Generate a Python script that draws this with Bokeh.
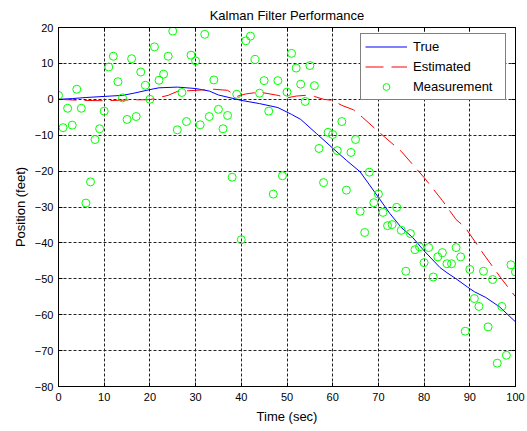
from bokeh.plotting import figure
from bokeh.models import Range1d, LinearAxis, FixedTicker, Legend, LegendItem
from bokeh.embed import file_html
from bokeh.resources import INLINE

# ---- data ----
time_s = list(range(101))
measurement = [
    1.1, -7.9, -2.5, -7.2, 2.8, -2.5, -28.9, -23.0, -11.2, -8.2,
    -3.3, 9.0, 12.0, 4.9, 0.4, -5.6, 11.3, -4.8, 7.6, 3.9,
    0.0, 14.6, 5.3, 7.0, 12.0, 19.0, -8.5, 1.9, -6.2, 12.3,
    10.7, -7.1, 18.1, -4.8, 5.4, -2.8, -8.2, -4.5, -21.7, 1.4,
    -39.1, 16.3, 17.6, 11.1, 1.7, 5.2, -3.3, -26.4, 5.2, -21.3,
    2.0, 12.8, 8.7, 4.2, -0.6, 9.4, 3.8, -13.7, -23.2, -9.2,
    -9.8, -14.3, -6.2, -25.3, -14.8, -11.2, -31.2, -37.1, -20.3, -28.8,
    -26.4, -31.5, -35.2, -34.9, -30.1, -36.5, -47.9, -37.4, -41.9, -41.1,
    -45.5, -41.3, -49.5, -43.9, -42.7, -45.8, -45.8, -41.3, -43.9, -64.6,
    -47.4, -55.5, -57.7, -47.9, -63.4, -50.2, -73.5, -57.7, -71.3, -46.1,
    -48.1,
]
true_t = [0, 3, 6, 10, 14, 16.5, 20, 22, 26, 30, 33, 35, 40, 44, 48, 51, 53,
          56.5, 60, 63, 66, 70, 72.5, 75, 77.5, 80, 83.5, 85, 87, 89.5, 91,
          93.5, 96.5, 100]
true_pos = [0, 0.2, 0.5, 0.8, 1.1, 1.7, 2.7, 3.2, 3.4, 3.0, 2.3, 1.2, -0.3,
            -1.2, -2.3, -4.2, -5.6, -9.6, -13.6, -17.0, -20.2, -27.3, -31.8,
            -35.7, -38.5, -42.2, -46.9, -48.3, -50.0, -52.3, -53.6, -55.2,
            -57.8, -62.0]
est_t = [0, 5, 10, 15, 20, 22, 24, 26, 30, 34, 37, 39, 41, 44, 48, 50, 52,
         54, 56, 58, 60, 62, 64.5, 66.5, 70, 75, 80, 84, 87, 89, 93, 97, 100]
est_pos = [0, -0.3, -0.4, -0.2, -0.1, 0.5, 1.1, 2.2, 2.5, 2.8, 2.5, 0.8, 1.5,
           2.0, 1.1, 0.4, 0.9, 1.1, 0.8, 0.0, -0.3, -1.7, -2.9, -5.0, -9.0,
           -14.5, -21.8, -28.2, -33.5, -35.7, -43.1, -50.1, -55.0]
x_ticks = list(range(0, 101, 10))
y_ticks = list(range(-80, 21, 10))

FONT = "Liberation Sans"

p = figure(width=527, height=431, output_backend="svg", toolbar_location=None,
           x_range=Range1d(0, 100), y_range=Range1d(-80, 20),
           min_border_left=58, min_border_right=12, min_border_top=27,
           min_border_bottom=45, title="Kalman Filter Performance")
p.background_fill_color = "white"
p.border_fill_color = "white"
p.outline_line_color = "black"

p.title.align = "center"
p.title.text_font = FONT
p.title.text_font_size = "13px"
p.title.text_font_style = "normal"
p.title.text_color = "black"
p.title.standoff = 9

for ax in p.xaxis + p.yaxis:
    ax.major_label_text_font = FONT
    ax.major_label_text_font_size = "11px"
    ax.major_label_text_color = "black"
    ax.axis_label_text_font = FONT
    ax.axis_label_text_font_size = "13px"
    ax.axis_label_text_font_style = "normal"
    ax.axis_label_text_color = "black"
    ax.major_tick_in = 4
    ax.major_tick_out = 0
    ax.minor_tick_line_color = None
    ax.axis_line_color = "black"
    ax.major_tick_line_color = "black"

p.xaxis.ticker = FixedTicker(ticks=x_ticks)
p.yaxis.ticker = FixedTicker(ticks=y_ticks)
p.xaxis.axis_label = "Time (sec)"
p.yaxis.axis_label = "Position (feet)"
p.xaxis.major_label_standoff = 6
p.yaxis.major_label_standoff = 5
p.xaxis.axis_label_standoff = 5
p.yaxis.axis_label_standoff = 4

top = LinearAxis(ticker=FixedTicker(ticks=x_ticks), major_label_text_font_size="0px",
                 major_label_text_color=None,
                 major_tick_in=4, major_tick_out=0, minor_tick_line_color=None,
                 major_label_standoff=0, axis_line_color="black")
right = LinearAxis(ticker=FixedTicker(ticks=y_ticks), major_label_text_font_size="0px",
                   major_label_text_color=None,
                   major_tick_in=4, major_tick_out=0, minor_tick_line_color=None,
                   major_label_standoff=0, axis_line_color="black")
p.add_layout(top, "above")
p.add_layout(right, "right")

p.xgrid.ticker = FixedTicker(ticks=x_ticks)
p.ygrid.ticker = FixedTicker(ticks=y_ticks)
for g in (p.xgrid, p.ygrid):
    g.grid_line_color = "#222222"
    g.grid_line_dash = "3 2"
    g.grid_line_width = 1

r_true = p.line(true_t, true_pos, line_color="#0000FF", line_width=1)
r_est = p.line(est_t, est_pos, line_color="#FF0000", line_width=1, line_dash="18 8")
r_meas = p.scatter(time_s, measurement, marker="circle", size=8, fill_color=None,
                   line_color="#00FF00", line_width=1)

legend = Legend(items=[LegendItem(label="True", renderers=[r_true]),
                       LegendItem(label="Estimated", renderers=[r_est]),
                       LegendItem(label="Measurement", renderers=[r_meas])],
                location=(302, 286), padding=4, spacing=3, margin=0,
                label_height=17, glyph_height=17, glyph_width=42,
                label_standoff=6, label_width=88,
                label_text_font=FONT, label_text_font_size="13px",
                label_text_color="black",
                border_line_color="black", border_line_width=1,
                background_fill_color="white", background_fill_alpha=1.0)
p.add_layout(legend)

open("out.html", "w").write(file_html(p, INLINE))
